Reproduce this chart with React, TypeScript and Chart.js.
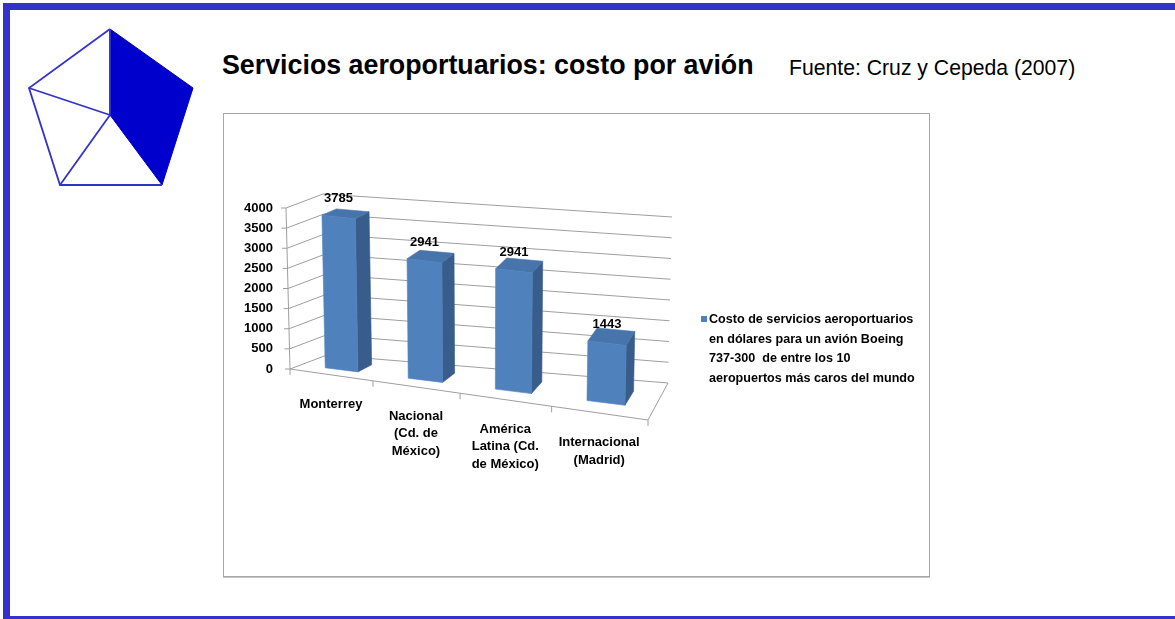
import React, { useEffect, useRef } from 'react';
import { Chart, registerables } from 'chart.js';

Chart.register(...registerables);

// ---------------- data ----------------
const categories: string[][] = [
  ['Monterrey'],
  ['Nacional', '(Cd. de', 'México)'],
  ['América', 'Latina (Cd.', 'de México)'],
  ['Internacional', '(Madrid)'],
];
const values: number[] = [3785, 2941, 2941, 1443];
const yTickValues: number[] = [0, 500, 1000, 1500, 2000, 2500, 3000, 3500, 4000];
const yTickLabels: string[] = ['0', '500', '1000', '1500', '2000', '2500', '3000', '3500', '4000'];
const seriesName =
  'Costo de servicios aeroportuarios en dólares para un avión Boeing 737-300  de entre los 10 aeropuertos más caros del mundo';
const legendLines: string[] = [
  'Costo de servicios aeroportuarios',
  'en dólares para un avión Boeing',
  '737-300  de entre los 10',
  'aeropuertos más caros del mundo',
];
const titleText = 'Servicios aeroportuarios: costo por avión';
const sourceText = 'Fuente: Cruz y Cepeda (2007)';

// ---------------- styling / geometry ----------------
const OX = 224; // canvas left in page coords
const OY = 114; // canvas top in page coords
const CW = 705;
const CH = 462;
const FL = [290, 369];
const FR = [648, 420];
const BL = [327, 355];
const BR = [668, 383];
const PERSP = 0.905;
const D0 = 0.3;
const D1 = 0.7;
const FONT = '"Liberation Sans", Arial, sans-serif';
const GRID = '#9e9e9e';
const FRONT = '#4f81bd';
const SIDE = '#385d8a';
const TOP = '#4774ab';

const warp = (u: number) => (u * PERSP) / (1 + (PERSP - 1) * u);

// project (u along categories, t along values, d depth) -> canvas coords
function P(u: number, t: number, d: number): [number, number] {
  const w = warp(u);
  const fx = FL[0] + w * (FR[0] - FL[0]);
  const fy = FL[1] + w * (FR[1] - FL[1]);
  const bx = BL[0] + w * (BR[0] - BL[0]);
  const by = BL[1] + w * (BR[1] - BL[1]);
  const x = fx + d * (bx - fx);
  const y = fy + d * (by - fy);
  const H = 161 + 5 * w;
  const lean = -4 + 8 * w;
  return [x + lean * t - OX, y - H * t - OY];
}

function line(ctx: CanvasRenderingContext2D, a: number[], b: number[]) {
  ctx.beginPath();
  ctx.moveTo(a[0], a[1]);
  ctx.lineTo(b[0], b[1]);
  ctx.stroke();
}

function poly(ctx: CanvasRenderingContext2D, pts: number[][], fill: string) {
  ctx.beginPath();
  ctx.moveTo(pts[0][0], pts[0][1]);
  for (let i = 1; i < pts.length; i++) ctx.lineTo(pts[i][0], pts[i][1]);
  ctx.closePath();
  ctx.fillStyle = fill;
  ctx.fill();
  ctx.strokeStyle = fill;
  ctx.lineWidth = 0.6;
  ctx.stroke();
}

const threeD = {
  id: 'threeD',
  beforeDatasetsDraw(chart: any) {
    const { ctx, chartArea: ca } = chart;
    const xs = chart.scales.x;
    const ys = chart.scales.y;
    const tOf = (v: number) => (ys.bottom - ys.getPixelForValue(v)) / (ys.bottom - ys.top);
    const uOf = (px: number) => (px - ca.left) / (ca.right - ca.left);
    ctx.save();
    ctx.strokeStyle = GRID;
    ctx.lineWidth = 1;
    yTickValues.forEach((v) => {
      const t = tOf(v);
      const a = P(0, t, 0);
      line(ctx, [a[0] - 5, a[1]], a);
      line(ctx, a, P(0, t, 1));
      line(ctx, P(0, t, 1), P(1, t, 1));
    });
    // left wall front edge
    line(ctx, P(0, 0, 0), P(0, 1, 0));
    // floor edges
    line(ctx, P(0, 0, 0), P(1, 0, 0));
    line(ctx, P(1, 0, 0), P(1, 0, 1));
    // category tick marks
    const n = categories.length;
    const slot = (ca.right - ca.left) / n;
    for (let i = 0; i <= n; i++) {
      const px = i < n ? xs.getPixelForValue(i) - slot / 2 : xs.getPixelForValue(n - 1) + slot / 2;
      const a = P(uOf(px), 0, 0);
      line(ctx, a, [a[0], a[1] + 6]);
    }
    ctx.restore();
  },
  afterDatasetsDraw(chart: any) {
    const { ctx, chartArea: ca } = chart;
    const xs = chart.scales.x;
    const ys = chart.scales.y;
    const uOf = (px: number) => (px - ca.left) / (ca.right - ca.left);
    const meta = chart.getDatasetMeta(0);
    ctx.save();
    meta.data.forEach((el: any, i: number) => {
      const { x, y, width } = el.getProps(['x', 'y', 'width'], true);
      const u0 = uOf(x - width / 2);
      const u1 = uOf(x + width / 2);
      const t = (ys.bottom - y) / (ys.bottom - ys.top);
      // side face
      poly(ctx, [P(u1, 0, D0), P(u1, 0, D1), P(u1, t, D1), P(u1, t, D0)], SIDE);
      // top face
      poly(ctx, [P(u0, t, D0), P(u1, t, D0), P(u1, t, D1), P(u0, t, D1)], TOP);
      // front face
      poly(ctx, [P(u0, 0, D0), P(u1, 0, D0), P(u1, t, D0), P(u0, t, D0)], FRONT);
      // value label
      const c = P((u0 + u1) / 2, t, D0);
      ctx.fillStyle = '#000';
      ctx.font = `bold 13px ${FONT}`;
      ctx.textAlign = 'center';
      ctx.textBaseline = 'alphabetic';
      ctx.fillText(String(chart.data.datasets[0].data[i]), c[0], c[1] - 15);
    });
    // category labels
    ctx.fillStyle = '#000';
    ctx.font = `bold 13px ${FONT}`;
    ctx.textAlign = 'center';
    ctx.textBaseline = 'alphabetic';
    categories.forEach((lines, i) => {
      const p = P(uOf(xs.getPixelForValue(i)), 0, 0);
      lines.forEach((s, k) => {
        ctx.fillText(s, p[0], p[1] + 33 + k * 17.5);
      });
    });
    // legend
    ctx.fillStyle = FRONT;
    ctx.fillRect(701 - OX, 316 - OY, 6, 6);
    ctx.fillStyle = '#000';
    ctx.font = `bold 12.6px ${FONT}`;
    ctx.textAlign = 'left';
    legendLines.forEach((s, k) => {
      ctx.fillText(s, 709 - OX, 323 - OY + k * 19.7);
    });
    ctx.restore();
  },
};

function ChartBox() {
  const ref = useRef<HTMLCanvasElement | null>(null);
  useEffect(() => {
    if (!ref.current) return;
    const chart = new Chart(ref.current, {
      type: 'bar',
      data: {
        labels: categories,
        datasets: [
          {
            label: seriesName,
            data: values,
            backgroundColor: 'rgba(0,0,0,0)',
            borderWidth: 0,
            categoryPercentage: 1,
            barPercentage: 0.4,
          },
        ],
      },
      options: {
        responsive: false,
        animation: false,
        events: [],
        layout: {
          padding: { left: 20, top: 208 - OY, right: CW - (648 - OX), bottom: CH - (369 - OY) },
        },
        plugins: {
          legend: { display: false },
          tooltip: { enabled: false },
        },
        scales: {
          x: { display: false, offset: true },
          y: {
            min: 0,
            max: 4000,
            afterFit: (s: any) => {
              s.width = 43;
            },
            grid: { display: false, drawTicks: false },
            border: { display: false },
            ticks: {
              stepSize: 500,
              padding: 14,
              color: '#000',
              font: { family: FONT, size: 13, weight: 'bold' },
              callback: (_v: any, i: number) => yTickLabels[i],
            },
          },
        },
      },
      plugins: [threeD],
    } as any);
    return () => chart.destroy();
  }, []);
  return <canvas ref={ref} width={CW} height={CH} style={{ display: 'block' }} />;
}

export default function App() {
  const blue = '#3333cc';
  return (
    <div
      style={{
        position: 'fixed',
        left: 0,
        top: 0,
        width: 1175,
        height: 619,
        overflow: 'hidden',
        background: '#fff',
        fontFamily: FONT,
      }}
    >
      <div style={{ position: 'absolute', left: 3, top: 3, width: 1172, height: 7, background: blue }} />
      <div style={{ position: 'absolute', left: 3, top: 3, width: 7, height: 616, background: blue }} />
      <div style={{ position: 'absolute', left: 3, top: 616, width: 1172, height: 3, background: blue }} />
      <svg width={220} height={200} style={{ position: 'absolute', left: 0, top: 0 }}>
        <polygon points="110,29 193,88 162,185 110,115" fill="#0000cc" stroke="#0000cc" strokeWidth={1} />
        <polyline points="110,29 29,88 60,185 162,185" fill="none" stroke={blue} strokeWidth={1.8} />
        <line x1={29} y1={88} x2={110} y2={115} stroke={blue} strokeWidth={1.8} />
        <line x1={110} y1={115} x2={60} y2={185} stroke={blue} strokeWidth={1.8} />
        <line x1={110} y1={29} x2={110} y2={115} stroke={blue} strokeWidth={1.8} />
      </svg>
      <div
        style={{
          position: 'absolute',
          left: 222,
          top: 50,
          fontSize: 26.8,
          lineHeight: '31px',
          fontWeight: 'bold',
          whiteSpace: 'nowrap',
          color: '#000',
        }}
      >
        {titleText}
      </div>
      <div
        style={{
          position: 'absolute',
          left: 789,
          top: 56,
          fontSize: 21.2,
          lineHeight: '24px',
          whiteSpace: 'nowrap',
          color: '#000',
        }}
      >
        {sourceText}
      </div>
      <div
        style={{
          position: 'absolute',
          left: 223,
          top: 113,
          width: CW,
          height: CH,
          border: '1px solid #a6a6a6',
          boxShadow: '0 1px 0 #c8c8c8',
          background: '#fff',
        }}
      >
        <ChartBox />
      </div>
    </div>
  );
}
